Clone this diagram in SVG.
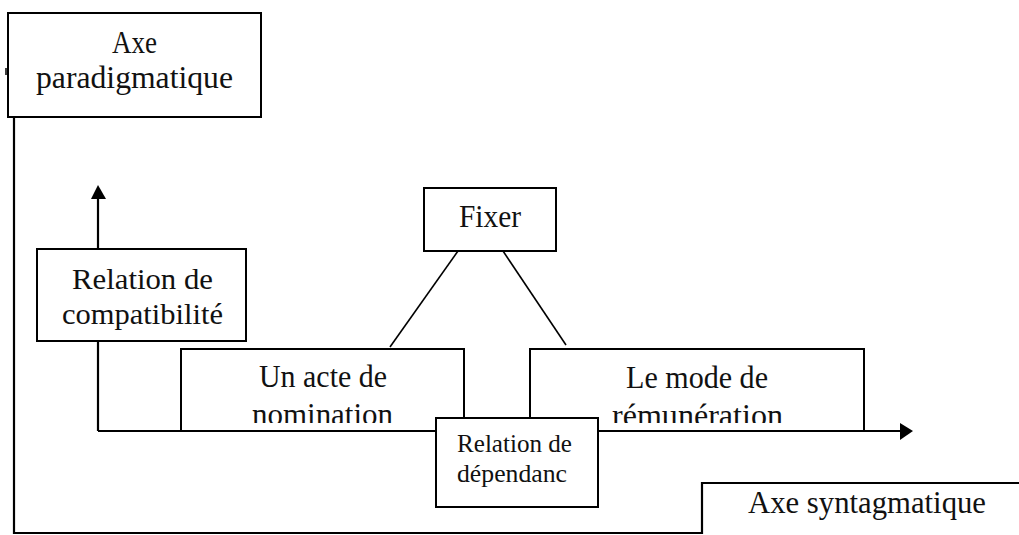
<svg xmlns="http://www.w3.org/2000/svg" width="1019" height="535" viewBox="0 0 1019 535">
<style>
.box{fill:#fff;stroke:#000;stroke-width:2}
.ln{fill:none;stroke:#000;stroke-width:2.2}
.thin{fill:none;stroke:#000;stroke-width:1.6}
.t{font-family:"Liberation Serif","DejaVu Serif",serif;font-size:32px;fill:#111;text-anchor:middle}
.m{font-family:"Liberation Serif","DejaVu Serif",serif;font-size:30px;fill:#111;text-anchor:middle}
.s{font-family:"Liberation Serif","DejaVu Serif",serif;font-size:26px;fill:#111;text-anchor:middle}
</style>
<defs>
<clipPath id="c1"><rect x="181" y="349" width="283" height="74"/></clipPath>
<clipPath id="c2"><rect x="530" y="349" width="334" height="74"/></clipPath>
</defs>
<rect width="1019" height="535" fill="#fff"/>
<g id="connectors">
<path class="ln" d="M14 117 V533 H702 V483 H1019"/>
<line x1="6" y1="68" x2="6" y2="75" stroke="#000" stroke-width="1.5"/>
<line class="ln" x1="98" y1="431" x2="98" y2="197"/>
<polygon points="98,185 91,199 106,199" fill="#000"/>
<line class="ln" x1="98" y1="431" x2="902" y2="431"/>
<polygon points="913,431 900,423 900,440" fill="#000"/>
<line class="thin" x1="458" y1="251" x2="390" y2="347"/>
<line class="thin" x1="503" y1="251" x2="566" y2="345"/>
</g>
<g id="axe-paradigmatique">
<rect class="box" x="8" y="13" width="253" height="104"/>
<text class="t" x="134.5" y="53" textLength="45" lengthAdjust="spacingAndGlyphs">Axe</text>
<text class="t" x="134.5" y="88" textLength="197" lengthAdjust="spacingAndGlyphs">paradigmatique</text>
</g>
<g id="relation-compatibilite">
<rect class="box" x="37" y="249" width="209" height="92"/>
<text class="m" x="142.5" y="289" textLength="141" lengthAdjust="spacingAndGlyphs">Relation de</text>
<text class="m" x="142.5" y="324" textLength="161" lengthAdjust="spacingAndGlyphs">compatibilité</text>
</g>
<g id="fixer">
<rect class="box" x="424" y="188" width="132" height="63"/>
<text class="t" x="490" y="227" textLength="62" lengthAdjust="spacingAndGlyphs">Fixer</text>
</g>
<g id="acte-nomination">
<rect class="box" x="181" y="349" width="283" height="82"/>
<g clip-path="url(#c1)">
<text class="t" x="323" y="387" textLength="128" lengthAdjust="spacingAndGlyphs">Un acte de</text>
<text class="t" x="322.5" y="425" textLength="141" lengthAdjust="spacingAndGlyphs">nomination</text>
</g>
</g>
<g id="mode-remuneration">
<rect class="box" x="530" y="349" width="334" height="82"/>
<g clip-path="url(#c2)">
<text class="t" x="697" y="388" textLength="142" lengthAdjust="spacingAndGlyphs">Le mode de</text>
<text class="t" x="697.5" y="426" textLength="171" lengthAdjust="spacingAndGlyphs">rémunération</text>
</g>
</g>
<g id="relation-dependance">
<rect class="box" x="436" y="418" width="162" height="89"/>
<text class="s" x="514.5" y="452" textLength="115" lengthAdjust="spacingAndGlyphs">Relation de</text>
<text class="s" x="512" y="482" textLength="110" lengthAdjust="spacingAndGlyphs">dépendanc</text>
</g>
<g id="axe-syntagmatique">
<text class="t" x="867" y="513" textLength="238" lengthAdjust="spacingAndGlyphs">Axe syntagmatique</text>
</g>
</svg>
